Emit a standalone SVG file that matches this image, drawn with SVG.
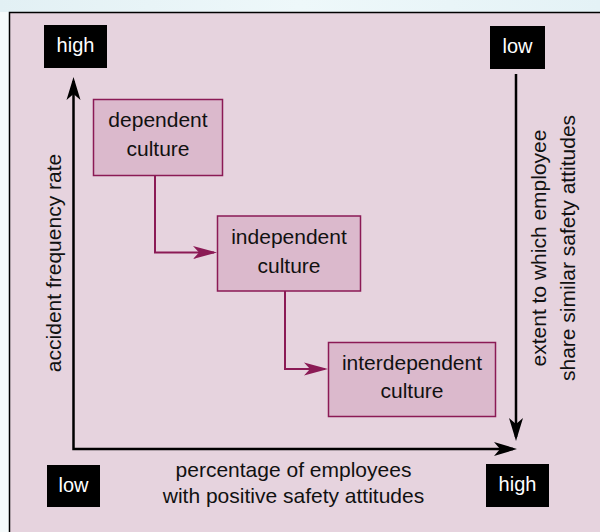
<svg xmlns="http://www.w3.org/2000/svg" width="600" height="532" viewBox="0 0 600 532">
  <style>
    .panel { fill: #e6d3de; stroke: #000; stroke-width: 1.5; }
    .tag { fill: #000; }
    .tag-text { fill: #fff; font-family: "Liberation Sans", Arial, sans-serif; font-size: 20px; text-anchor: middle; }
    .node rect { fill: #dbb9cc; stroke: #8b1a55; stroke-width: 1.5; }
    .label { fill: #111; font-family: "Liberation Sans", Arial, sans-serif; font-size: 21px; text-anchor: middle; }
    .axis { fill: none; stroke: #000; stroke-width: 2.5; stroke-linejoin: miter; }
    .flow { fill: none; stroke: #8b1a55; stroke-width: 2; }
  </style>
  <defs>
    <linearGradient id="sky" x1="0" y1="0" x2="1" y2="0">
      <stop offset="0" stop-color="#e2f0f4"/>
      <stop offset="0.5" stop-color="#eef8fa"/>
      <stop offset="1" stop-color="#e4f2f6"/>
    </linearGradient>
    <marker id="axis-head" viewBox="-1 -8 25 16" markerUnits="userSpaceOnUse" markerWidth="25" markerHeight="16" refX="19" refY="0" orient="auto-start-reverse">
      <path d="M0,-7 L23,0 L0,7 L6,0 Z" fill="#000"/>
    </marker>
    <marker id="flow-head" viewBox="-1 -8 26 16" markerUnits="userSpaceOnUse" markerWidth="26" markerHeight="16" refX="21" refY="0" orient="auto">
      <path d="M0,-6.5 L24,0 L0,6.5 L6,0 Z" fill="#8b1a55"/>
    </marker>
  </defs>

  <!-- backdrop -->
  <rect x="0" y="0" width="600" height="532" fill="#f5fafb"/>
  <rect x="0" y="0" width="600" height="12" fill="url(#sky)"/>
  <rect class="panel" x="9.5" y="12.5" width="600" height="530"/>

  <!-- axes and flow connectors -->
  <g id="connectors">
    <path class="axis" d="M73.5,81 V449 H513" marker-start="url(#axis-head)" marker-end="url(#axis-head)"/>
    <path class="axis" d="M516,74 V437" marker-end="url(#axis-head)"/>
    <path class="flow" d="M155,175 V252.5 H214" marker-end="url(#flow-head)"/>
    <path class="flow" d="M285,291 V369 H325" marker-end="url(#flow-head)"/>
  </g>

  <!-- axis end tags -->
  <g id="tag-y-high">
    <rect class="tag" x="44" y="25" width="63" height="43"/>
    <text class="tag-text" x="75.5" y="52">high</text>
  </g>
  <g id="tag-share-low">
    <rect class="tag" x="490" y="26" width="55" height="43"/>
    <text class="tag-text" x="517.5" y="53">low</text>
  </g>
  <g id="tag-x-low">
    <rect class="tag" x="47" y="465" width="53" height="42"/>
    <text class="tag-text" x="73.5" y="492">low</text>
  </g>
  <g id="tag-x-high">
    <rect class="tag" x="486" y="464" width="63" height="43"/>
    <text class="tag-text" x="517.5" y="491">high</text>
  </g>

  <!-- axis titles -->
  <g id="title-y">
    <text class="label" transform="translate(61,263) rotate(-90)">accident frequency rate</text>
  </g>
  <g id="title-share">
    <text class="label" transform="translate(546,248) rotate(-90)">extent to which employee</text>
    <text class="label" transform="translate(575,248) rotate(-90)">share similar safety attitudes</text>
  </g>
  <g id="title-x">
    <text class="label" x="293.5" y="477">percentage of employees</text>
    <text class="label" x="293.5" y="503">with positive safety attitudes</text>
  </g>

  <!-- culture stages -->
  <g id="dependent" class="node">
    <rect x="93.5" y="99.5" width="129" height="76"/>
    <text class="label" x="158" y="127">dependent</text>
    <text class="label" x="158" y="156">culture</text>
  </g>
  <g id="independent" class="node">
    <rect x="217.5" y="216" width="143" height="75"/>
    <text class="label" x="289" y="244">independent</text>
    <text class="label" x="289" y="273">culture</text>
  </g>
  <g id="interdependent" class="node">
    <rect x="328.5" y="342.5" width="167" height="74"/>
    <text class="label" x="412" y="370">interdependent</text>
    <text class="label" x="412" y="398">culture</text>
  </g>
</svg>
